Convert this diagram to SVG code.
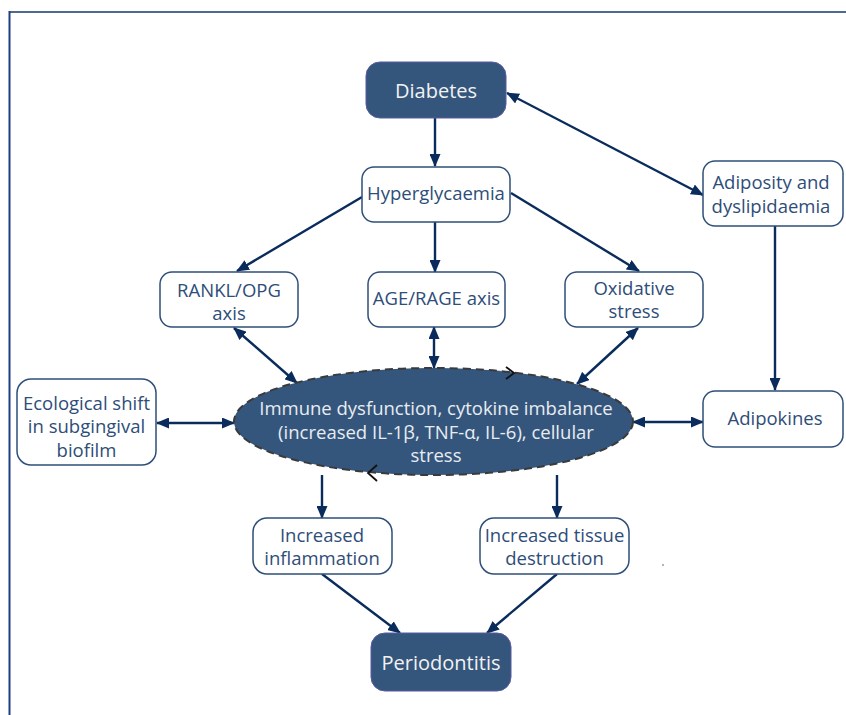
<svg xmlns="http://www.w3.org/2000/svg" width="846" height="715" viewBox="0 0 846 715">
<defs>
<style>
.frame-top{stroke:#4d6b8f;stroke-width:2;fill:none}
.frame-left{stroke:#1f3f80;stroke-width:2;fill:none}
.box{fill:#ffffff;stroke:#2f4f7a;stroke-width:1.5}
.dark{fill:#34567c;stroke:#5a5aa0;stroke-width:1}
.t{font-family:"Open Sans","Liberation Sans",sans-serif;font-size:18.5px;fill:#2e4d78;text-anchor:middle}
.tw{font-family:"Open Sans","Liberation Sans",sans-serif;font-size:20px;fill:#f2f2f2;text-anchor:middle}
.te{font-family:"Open Sans","Liberation Sans",sans-serif;font-size:18.5px;fill:#e8ecf2;text-anchor:middle}
.c{stroke:#0a2c5c;stroke-width:2.4;fill:none}
.one{marker-end:url(#ah)}
.two{marker-start:url(#ah);marker-end:url(#ah)}
.chev{stroke:#111;stroke-width:1.8;fill:none}
</style>
<marker id="ah" viewBox="0 0 13 11" markerWidth="13" markerHeight="11" refX="12" refY="5.5" orient="auto-start-reverse" markerUnits="userSpaceOnUse">
<path d="M0,0 L13,5.5 L0,11 z" fill="#0a2c5c"/>
</marker>
</defs>
<rect width="846" height="715" fill="#ffffff"/>
<line class="frame-top" x1="9" y1="12" x2="846" y2="12"/>
<line class="frame-left" x1="9.5" y1="11" x2="9.5" y2="715"/>

<g id="connectors">
<line class="c one" x1="435" y1="118" x2="435" y2="166"/>
<line class="c two" x1="507" y1="93" x2="703" y2="195"/>
<line class="c one" x1="362" y1="197" x2="237" y2="271"/>
<line class="c one" x1="435" y1="222" x2="435" y2="272"/>
<line class="c one" x1="511" y1="193" x2="639" y2="271"/>
<line class="c two" x1="234" y1="328" x2="297" y2="383"/>
<line class="c two" x1="434" y1="327" x2="434" y2="368"/>
<line class="c two" x1="638" y1="328" x2="577" y2="384"/>
<line class="c one" x1="775" y1="226" x2="775" y2="390"/>
<line class="c two" x1="157" y1="423" x2="234" y2="423"/>
<line class="c two" x1="633" y1="422" x2="703" y2="422"/>
<line class="c one" x1="322" y1="475" x2="322" y2="518"/>
<line class="c one" x1="557" y1="475" x2="557" y2="518"/>
<line class="c one" x1="322" y1="574" x2="400" y2="633"/>
<line class="c one" x1="557" y1="574" x2="487" y2="633"/>
</g>

<g id="diabetes">
<rect class="dark" x="366" y="62" width="140" height="56" rx="14"/>
<text class="tw" x="436" y="98">Diabetes</text>
</g>
<g id="hyperglycaemia">
<rect class="box" x="362" y="167" width="148" height="55" rx="12"/>
<text class="t" x="436" y="200">Hyperglycaemia</text>
</g>
<g id="rankl">
<rect class="box" x="160" y="272" width="138" height="55" rx="12"/>
<text class="t" x="229" y="297">RANKL/OPG</text>
<text class="t" x="229" y="320">axis</text>
</g>
<g id="age">
<rect class="box" x="368" y="272" width="137" height="55" rx="12"/>
<text class="t" x="436.5" y="305">AGE/RAGE axis</text>
</g>
<g id="oxidative">
<rect class="box" x="565" y="272" width="138" height="55" rx="12"/>
<text class="t" x="634" y="295">Oxidative</text>
<text class="t" x="634" y="318">stress</text>
</g>
<g id="adiposity">
<rect class="box" x="703" y="161" width="140" height="65" rx="12"/>
<text class="t" x="771" y="189">Adiposity and</text>
<text class="t" x="771" y="213">dyslipidaemia</text>
</g>
<g id="ecological">
<rect class="box" x="17" y="379" width="139" height="86" rx="14"/>
<text class="t" x="86.5" y="410">Ecological shift</text>
<text class="t" x="86.5" y="433">in subgingival</text>
<text class="t" x="86.5" y="457">biofilm</text>
</g>
<g id="adipokines">
<rect class="box" x="703" y="391" width="140" height="56" rx="12"/>
<text class="t" x="775" y="425">Adipokines</text>
</g>
<g id="immune">
<ellipse cx="433.5" cy="421.5" rx="199.5" ry="53.5" fill="#34567c" stroke="#3a3a3a" stroke-width="2" stroke-dasharray="8,5"/>
<polyline class="chev" points="506,367 514,373 506,379"/>
<polyline class="chev" points="377,465 368,473 377,481"/>
<text class="te" x="436" y="415">Immune dysfunction, cytokine imbalance</text>
<text class="te" x="436" y="439">(increased IL-1β, TNF-α, IL-6), cellular</text>
<text class="te" x="436" y="462">stress</text>
</g>
<g id="inflammation">
<rect class="box" x="253" y="518" width="139" height="56" rx="14"/>
<text class="t" x="322" y="542">Increased</text>
<text class="t" x="322" y="565">inflammation</text>
</g>
<g id="tissue">
<rect class="box" x="480" y="518" width="149" height="56" rx="14"/>
<text class="t" x="554.5" y="542">Increased tissue</text>
<text class="t" x="554.5" y="565">destruction</text>
</g>
<g id="periodontitis">
<rect class="dark" x="371" y="633" width="140" height="58" rx="14"/>
<text class="tw" x="441" y="670">Periodontitis</text>
</g>
<circle cx="663" cy="565" r="0.8" fill="#555"/>
</svg>
